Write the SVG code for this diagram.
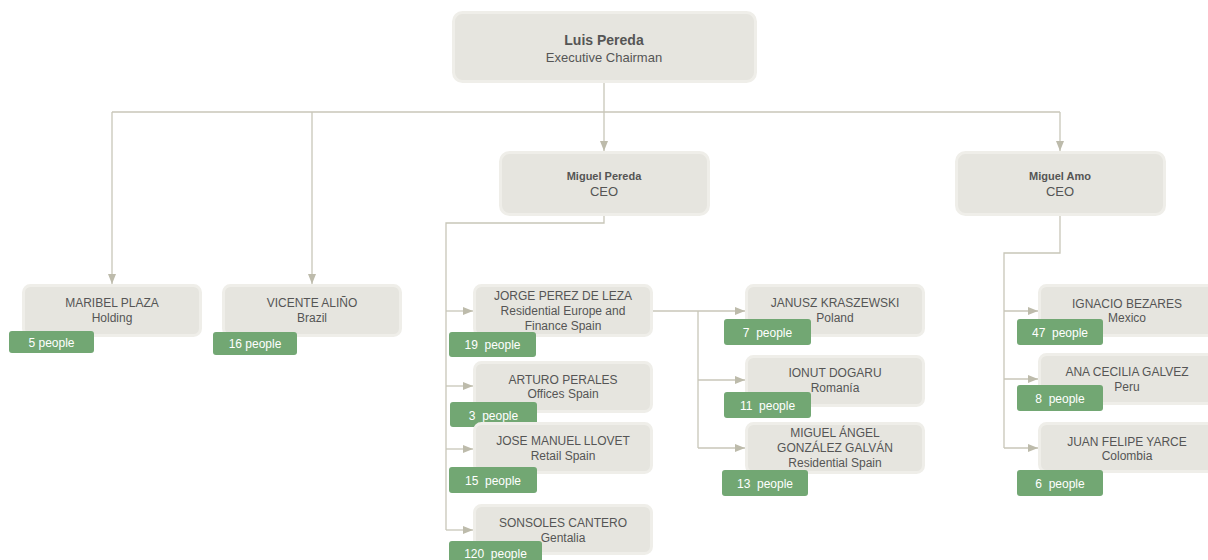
<svg xmlns="http://www.w3.org/2000/svg" width="1208" height="560" viewBox="0 0 1208 560">
<style>
.box{fill:#e6e5df;stroke:#efeee9;stroke-width:3}
.badge{fill:#72a773}
.t{font-family:"Liberation Sans",Arial,sans-serif;font-size:12px;fill:#555;text-anchor:middle}
.b{font-weight:bold;font-size:11px}
.big{font-size:14px;font-weight:bold}
.m{font-size:13px}
.bt{font-family:"Liberation Sans",Arial,sans-serif;font-size:12px;fill:#fff;text-anchor:middle;white-space:pre}
.ln{fill:none;stroke:#c8c6b8;stroke-width:1.3}
</style>
<defs>
<marker id="ar" markerUnits="userSpaceOnUse" markerWidth="10" markerHeight="8" refX="10" refY="4" orient="auto" viewBox="0 0 10 8">
<path d="M0,0 L10,4 L0,8 z" fill="#bdbbab"/>
</marker>
</defs>
<g id="connectors">
<path class="ln" d="M604,82 V112"/>
<path class="ln" d="M112,112 H1060"/>
<path class="ln" d="M112,112 V284" marker-end="url(#ar)"/>
<path class="ln" d="M312,112 V284" marker-end="url(#ar)"/>
<path class="ln" d="M604,112 V151" marker-end="url(#ar)"/>
<path class="ln" d="M1060,112 V151" marker-end="url(#ar)"/>
<path class="ln" d="M604,216 V223 H446 V530"/>
<path class="ln" d="M446,311 H473" marker-end="url(#ar)"/>
<path class="ln" d="M446,386 H473" marker-end="url(#ar)"/>
<path class="ln" d="M446,449 H473" marker-end="url(#ar)"/>
<path class="ln" d="M446,530 H473" marker-end="url(#ar)"/>
<path class="ln" d="M653,311 H745" marker-end="url(#ar)"/>
<path class="ln" d="M698,311 V448"/>
<path class="ln" d="M698,380 H745" marker-end="url(#ar)"/>
<path class="ln" d="M698,448 H745" marker-end="url(#ar)"/>
<path class="ln" d="M1060,216 V253 H1004 V448"/>
<path class="ln" d="M1004,311 H1038" marker-end="url(#ar)"/>
<path class="ln" d="M1004,379 H1038" marker-end="url(#ar)"/>
<path class="ln" d="M1004,448 H1038" marker-end="url(#ar)"/>
</g>
<g id="luis">
<rect class="box" x="453.500" y="12.500" width="302" height="69" rx="9"/>
<text class="t big" x="604" y="45">Luis Pereda</text>
<text class="t m" x="604" y="62">Executive Chairman</text>
</g>
<g id="miguel-pereda">
<rect class="box" x="500.500" y="152.500" width="208" height="62" rx="9"/>
<text class="t b" x="604" y="180">Miguel Pereda</text>
<text class="t m" x="604" y="196">CEO</text>
</g>
<g id="miguel-amo">
<rect class="box" x="956.500" y="152.500" width="208" height="62" rx="9"/>
<text class="t b" x="1060" y="180">Miguel Amo</text>
<text class="t m" x="1060" y="196">CEO</text>
</g>
<g id="maribel">
<rect class="box" x="23.500" y="285.500" width="177" height="50" rx="7"/>
<text class="t" x="112" y="307">MARIBEL PLAZA</text>
<text class="t" x="112" y="322">Holding</text>
<rect class="badge" x="9" y="331" width="85" height="22" rx="3"/>
<text class="bt" x="51.500" y="347">5 people</text>
</g>
<g id="vicente">
<rect class="box" x="223.500" y="285.500" width="177" height="50" rx="7"/>
<text class="t" x="312" y="307">VICENTE ALIÑO</text>
<text class="t" x="312" y="322">Brazil</text>
<rect class="badge" x="213" y="332" width="84" height="23" rx="3"/>
<text class="bt" x="255" y="348">16 people</text>
</g>
<g id="jorge">
<rect class="box" x="474.500" y="285.500" width="177" height="50" rx="7"/>
<text class="t" x="563" y="300">JORGE PEREZ DE LEZA</text>
<text class="t" x="563" y="315">Residential Europe and</text>
<text class="t" x="563" y="330">Finance Spain</text>
<rect class="badge" x="449" y="332" width="87" height="25" rx="3"/>
<text class="bt" x="492.500" y="349">19  people</text>
</g>
<g id="arturo">
<rect class="box" x="474.500" y="362.500" width="177" height="49" rx="7"/>
<text class="t" x="563" y="384">ARTURO PERALES</text>
<text class="t" x="563" y="398">Offices Spain</text>
<rect class="badge" x="450" y="402" width="87" height="25" rx="3"/>
<text class="bt" x="493.500" y="420">3  people</text>
</g>
<g id="jose">
<rect class="box" x="474.500" y="423.500" width="177" height="49" rx="7"/>
<text class="t" x="563" y="445">JOSE MANUEL LLOVET</text>
<text class="t" x="563" y="460">Retail Spain</text>
<rect class="badge" x="449" y="467" width="88" height="26" rx="3"/>
<text class="bt" x="493" y="485">15  people</text>
</g>
<g id="sonsoles">
<rect class="box" x="474.500" y="505.500" width="177" height="48" rx="7"/>
<text class="t" x="563" y="527">SONSOLES CANTERO</text>
<text class="t" x="563" y="542">Gentalia</text>
<rect class="badge" x="449" y="541" width="93" height="26" rx="3"/>
<text class="bt" x="495.500" y="558">120  people</text>
</g>
<g id="janusz">
<rect class="box" x="746.500" y="285.500" width="177" height="50" rx="7"/>
<text class="t" x="835" y="307">JANUSZ KRASZEWSKI</text>
<text class="t" x="835" y="322">Poland</text>
<rect class="badge" x="724" y="319" width="87" height="26" rx="3"/>
<text class="bt" x="767.500" y="337">7  people</text>
</g>
<g id="ionut">
<rect class="box" x="746.500" y="356.500" width="177" height="49" rx="7"/>
<text class="t" x="835" y="377">IONUT DOGARU</text>
<text class="t" x="835" y="392">Romanía</text>
<rect class="badge" x="724" y="392" width="87" height="26" rx="3"/>
<text class="bt" x="767.500" y="410">11  people</text>
</g>
<g id="miguel-angel">
<rect class="box" x="746.500" y="423.500" width="177" height="49" rx="7"/>
<text class="t" x="835" y="437">MIGUEL ÁNGEL</text>
<text class="t" x="835" y="452">GONZÁLEZ GALVÁN</text>
<text class="t" x="835" y="467">Residential Spain</text>
<rect class="badge" x="722" y="470" width="86" height="26" rx="3"/>
<text class="bt" x="765" y="488">13  people</text>
</g>
<g id="ignacio">
<rect class="box" x="1039.500" y="285.500" width="177" height="50" rx="7"/>
<text class="t" x="1127" y="308">IGNACIO BEZARES</text>
<text class="t" x="1127" y="322">Mexico</text>
<rect class="badge" x="1017" y="319" width="86" height="26" rx="3"/>
<text class="bt" x="1060" y="337">47  people</text>
</g>
<g id="ana">
<rect class="box" x="1039.500" y="354.500" width="177" height="49" rx="7"/>
<text class="t" x="1127" y="376">ANA CECILIA GALVEZ</text>
<text class="t" x="1127" y="391">Peru</text>
<rect class="badge" x="1017" y="385" width="86" height="26" rx="3"/>
<text class="bt" x="1060" y="403">8  people</text>
</g>
<g id="juan">
<rect class="box" x="1039.500" y="423.500" width="177" height="48" rx="7"/>
<text class="t" x="1127" y="446">JUAN FELIPE YARCE</text>
<text class="t" x="1127" y="460">Colombia</text>
<rect class="badge" x="1017" y="470" width="86" height="26" rx="3"/>
<text class="bt" x="1060" y="488">6  people</text>
</g>
</svg>
